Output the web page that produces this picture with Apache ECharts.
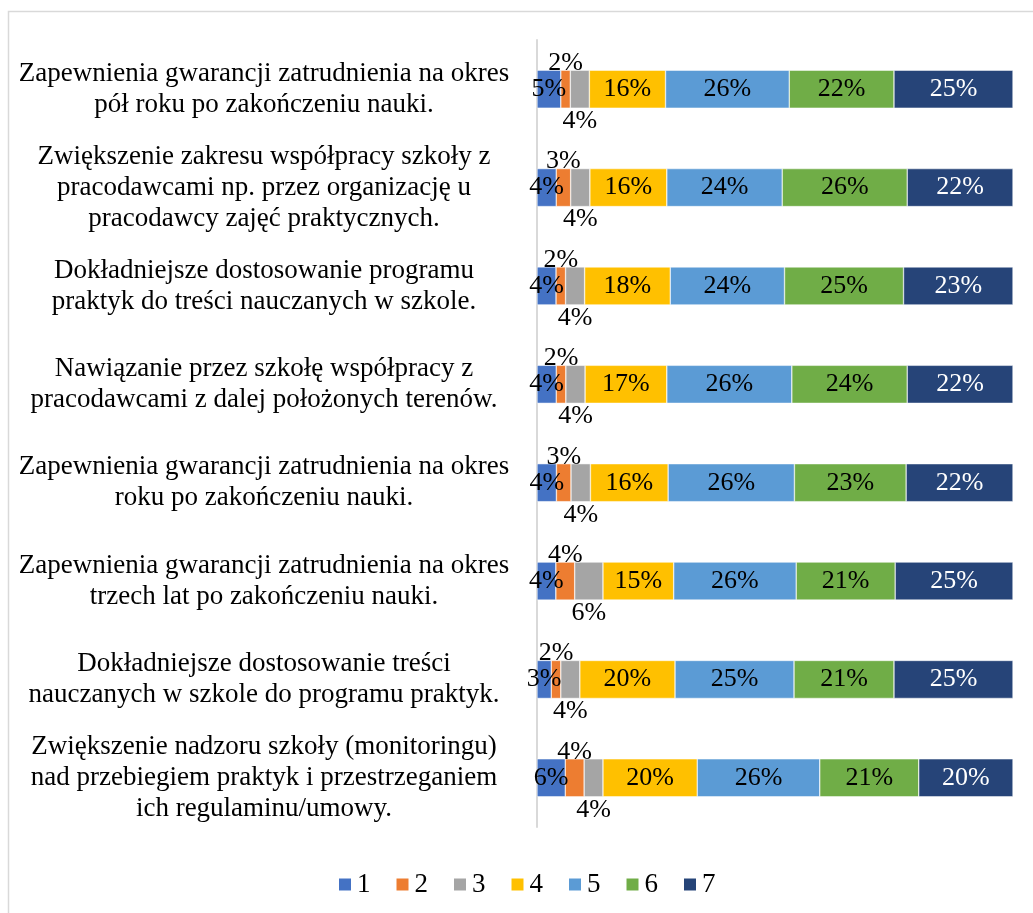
<!DOCTYPE html>
<html>
<head>
<meta charset="utf-8">
<script src="https://cdn.jsdelivr.net/npm/echarts@6/dist/echarts.min.js"></script>
<style>
  html, body { margin: 0; padding: 0; background: #fff; }
  #chart { width: 1033px; height: 913px; }
</style>
</head>
<body>
<div id="chart"></div>
<script>
const categories = [
  "Zapewnienia gwarancji zatrudnienia na okres\npół roku po zakończeniu nauki.",
  "Zwiększenie zakresu współpracy szkoły z\npracodawcami np. przez organizację u\npracodawcy zajęć praktycznych.",
  "Dokładniejsze dostosowanie programu\npraktyk do treści nauczanych w szkole.",
  "Nawiązanie przez szkołę współpracy z\npracodawcami z dalej położonych terenów.",
  "Zapewnienia gwarancji zatrudnienia na okres\nroku po zakończeniu nauki.",
  "Zapewnienia gwarancji zatrudnienia na okres\ntrzech lat po zakończeniu nauki.",
  "Dokładniejsze dostosowanie treści\nnauczanych w szkole do programu praktyk.",
  "Zwiększenie nadzoru szkoły (monitoringu)\nnad przebiegiem praktyk i przestrzeganiem\nich regulaminu/umowy.",
];

const seriesNames = ["1", "2", "3", "4", "5", "6", "7"];

// one array per answer, one value per category (top to bottom)
const s1 = [5, 4, 4, 4, 4, 4, 3, 6];
const s2 = [2, 3, 2, 2, 3, 4, 2, 4];
const s3 = [4, 4, 4, 4, 4, 6, 4, 4];
const s4 = [16, 16, 18, 17, 16, 15, 20, 20];
const s5 = [26, 24, 24, 26, 26, 26, 25, 26];
const s6 = [22, 26, 25, 24, 23, 21, 21, 21];
const s7 = [25, 22, 23, 22, 22, 25, 25, 20];

const colors = ["#4472C4", "#ED7D31", "#A5A5A5", "#FFC000", "#5B9BD5", "#70AD47", "#264478"];

const allSeries = [s1, s2, s3, s4, s5, s6, s7];
const rowSums = categories.map((c, i) => allSeries.reduce((a, s) => a + s[i], 0));

const serif = "'Liberation Serif', 'Times New Roman', serif";

const chart = echarts.init(document.getElementById("chart"));

chart.setOption({
  backgroundColor: "#fff",
  animation: false,
  graphic: [
    {
      type: "rect",
      shape: { x: 8.5, y: 11.5, width: 1100, height: 1000 },
      style: { fill: "none", stroke: "#d9d9d9", lineWidth: 1.5 },
      silent: true,
    },
  ],
  grid: { left: 537, right: 20, top: 40, bottom: 86 },
  legend: {
    bottom: 10,
    left: 332,
    itemWidth: 14,
    itemHeight: 14,
    itemGap: 24,
    icon: "rect",
    textStyle: { fontFamily: serif, fontSize: 27, color: "#000" },
    data: seriesNames,
  },
  xAxis: {
    type: "value",
    min: 0,
    max: 100,
    show: false,
  },
  yAxis: {
    type: "category",
    inverse: true,
    data: categories,
    axisLine: { show: true, lineStyle: { color: "#d9d9d9", width: 2 } },
    axisTick: { show: false },
    axisLabel: {
      margin: 273,
      align: "center",
      fontFamily: serif,
      fontSize: 27,
      lineHeight: 31,
      color: "#000",
    },
  },
  series: allSeries.map((vals, si) => ({
    name: seriesNames[si],
    type: "bar",
    stack: "total",
    barWidth: 38,
    itemStyle: { color: colors[si], borderColor: "#fff", borderWidth: 0.5 },
    label: {
      show: true,
      position: si === 1 ? "top" : si === 2 ? "bottom" : "inside",
      distance: si === 1 ? -6 : si === 2 ? 0 : 5,
      fontFamily: serif,
      fontSize: 26,
      color: si === 6 ? "#fff" : "#000",
      formatter: (p) => vals[p.dataIndex] + "%",
    },
    data: vals.map((v, i) => (v / rowSums[i]) * 100),
  })),
});
</script>
</body>
</html>
